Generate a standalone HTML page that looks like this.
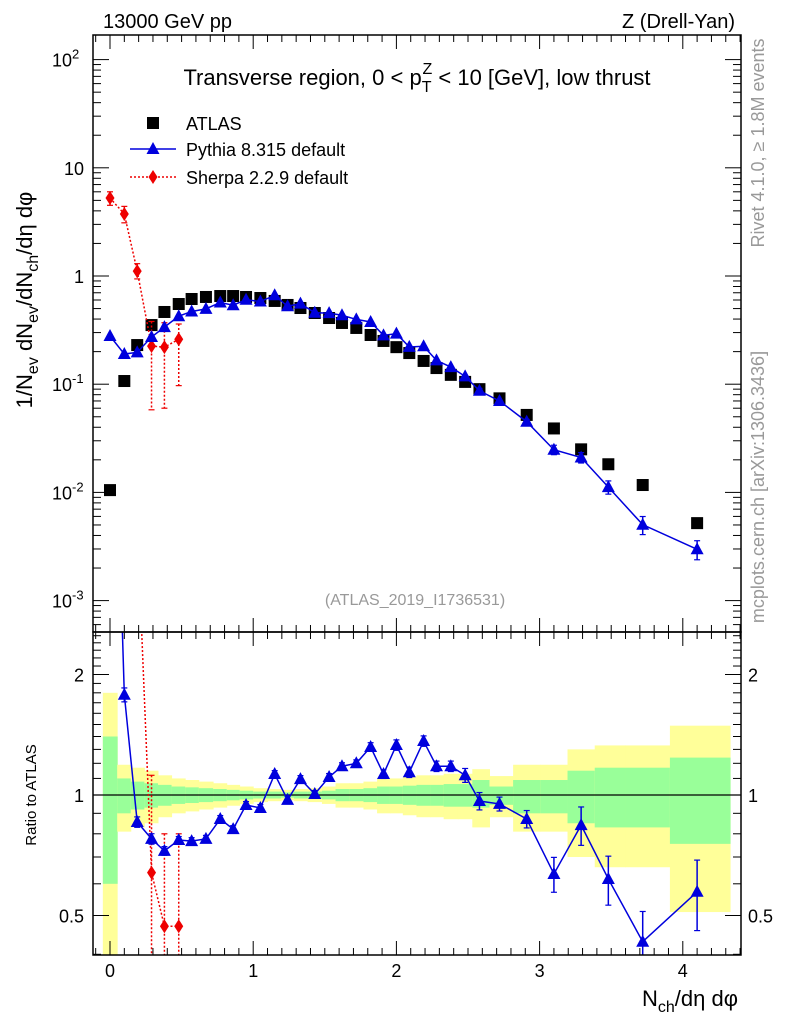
<!DOCTYPE html>
<html><head><meta charset="utf-8"><style>
body{margin:0;background:#fff;}
svg{display:block;font-family:"Liberation Sans",sans-serif;}
</style></head><body>
<svg id="c" width="786" height="1024" viewBox="0 0 786 1024">
<text x="103" y="28" font-size="20">13000 GeV pp</text>
<text x="735" y="28" font-size="20" text-anchor="end">Z (Drell-Yan)</text>
<text x="417" y="85" font-size="22" text-anchor="middle">Transverse region, 0 &lt; p<tspan font-size="16" dy="7">T</tspan><tspan font-size="16" dx="-9" dy="-18">Z</tspan><tspan dy="11"> &lt; 10 [GeV], low thrust</tspan></text>
<text x="415" y="605" font-size="16" fill="#999" text-anchor="middle">(ATLAS_2019_I1736531)</text>
<text transform="translate(764,143) rotate(-90)" font-size="18" fill="#999" text-anchor="middle">Rivet 4.1.0, ≥ 1.8M events</text>
<text transform="translate(764,487) rotate(-90)" font-size="18" fill="#999" text-anchor="middle">mcplots.cern.ch [arXiv:1306.3436]</text>
<text transform="translate(32,300) rotate(-90)" font-size="22" text-anchor="middle">1/N<tspan font-size="16" dy="6">ev</tspan><tspan dy="-6"> dN</tspan><tspan font-size="16" dy="6">ev</tspan><tspan dy="-6">/dN</tspan><tspan font-size="16" dy="6">ch</tspan><tspan dy="-6">/dη dφ</tspan></text>
<text transform="translate(36,795) rotate(-90)" font-size="15" text-anchor="middle">Ratio to ATLAS</text>
<text x="738" y="1006" font-size="22" text-anchor="end">N<tspan font-size="16" dy="6">ch</tspan><tspan dy="-6">/dη dφ</tspan></text>
<g id="g"></g>
</svg>
<script>
const xVals=[0,0.1,0.19,0.29,0.38,0.48,0.57,0.67,0.77,0.86,0.95,1.05,1.15,1.24,1.33,1.43,1.53,1.62,1.72,1.82,1.91,2.0,2.09,2.19,2.28,2.38,2.48,2.58,2.72,2.91,3.1,3.29,3.48,3.72,4.1];
const atlas=[0.0105,0.107,0.23,0.352,0.465,0.551,0.613,0.64,0.653,0.653,0.64,0.626,0.588,0.54,0.506,0.455,0.409,0.368,0.331,0.285,0.251,0.22,0.194,0.164,0.141,0.122,0.105,0.09,0.074,0.052,0.039,0.025,0.0182,0.0117,0.0052];
const pythia=[0.279,0.19,0.197,0.273,0.337,0.425,0.47,0.497,0.569,0.537,0.604,0.581,0.663,0.525,0.555,0.458,0.454,0.434,0.397,0.376,0.283,0.293,0.221,0.224,0.166,0.144,0.118,0.087,0.070,0.045,0.0248,0.021,0.0112,0.00503,0.00298];
const pythiaRatio=[26,1.78,0.856,0.777,0.725,0.772,0.767,0.777,0.871,0.822,0.944,0.928,1.128,0.972,1.096,1.006,1.109,1.18,1.2,1.318,1.128,1.333,1.14,1.364,1.18,1.18,1.12,0.966,0.95,0.871,0.635,0.841,0.617,0.43,0.573];
const pythiaErr=[0.03,0.04,0.03,0.03,0.025,0.02,0.02,0.02,0.02,0.02,0.02,0.02,0.02,0.02,0.02,0.02,0.02,0.02,0.02,0.025,0.025,0.03,0.03,0.03,0.03,0.03,0.04,0.05,0.04,0.05,0.1,0.11,0.14,0.19,0.2];
const sherpaX=[0,0.1,0.19,0.29,0.38,0.48];
const sherpa=[5.26,3.74,1.11,0.225,0.22,0.26];
const sherpaLo=[4.5,3.1,0.94,0.058,0.06,0.097];
const sherpaHi=[6.0,4.4,1.3,0.38,0.37,0.36];
const sherpaRatio=[500,35,4.8,0.64,0.47,0.47];
const sherpaRatioHi=[600,40,6,1.12,0.8,0.8];
const sherpaRatioLo=[400,30,4,0.2,0.2,0.2];
const bandYu=[1.8,1.19,1.17,1.15,1.12,1.10,1.09,1.08,1.07,1.06,1.05,1.04,1.035,1.03,1.035,1.04,1.05,1.07,1.07,1.08,1.10,1.10,1.11,1.12,1.12,1.13,1.13,1.16,1.115,1.19,1.19,1.30,1.33,1.33,1.49];
const bandYd=[0.35,0.81,0.83,0.85,0.88,0.90,0.91,0.92,0.93,0.94,0.95,0.96,0.965,0.97,0.965,0.96,0.95,0.93,0.93,0.92,0.90,0.90,0.89,0.88,0.88,0.87,0.87,0.83,0.88,0.81,0.81,0.70,0.66,0.66,0.51];
const bandGu=[1.40,1.10,1.08,1.07,1.06,1.05,1.045,1.04,1.035,1.03,1.025,1.02,1.02,1.015,1.02,1.02,1.025,1.035,1.035,1.04,1.05,1.05,1.055,1.06,1.06,1.065,1.065,1.09,1.05,1.09,1.09,1.15,1.17,1.17,1.24];
const bandGd=[0.60,0.90,0.92,0.93,0.94,0.95,0.955,0.96,0.965,0.97,0.975,0.98,0.98,0.985,0.98,0.98,0.975,0.965,0.965,0.96,0.95,0.95,0.945,0.94,0.94,0.935,0.935,0.93,0.945,0.90,0.90,0.85,0.83,0.83,0.755];
const mainTicks=["10^2","10","1","10^-1","10^-2","10^-3"];
const ratioTicks=[2,1,0.5];
const xTicks=[0,1,2,3,4];

const NS="http://www.w3.org/2000/svg";
const g=document.getElementById('g');
const L=93,R=741,MT=35,MB=632,RT=632,RB=955;
const X=v=>110+143.2*v;
const Y=v=>276-108.2*Math.log10(v);
const YR=v=>795-120.5*Math.log2(v);
function mk(t,a,p){const e=document.createElementNS(NS,t);for(const k in a)e.setAttribute(k,a[k]);(p||g).appendChild(e);return e;}
const defs=mk('defs',{});
const c1=mk('clipPath',{id:'cm'},defs);mk('rect',{x:L,y:MT,width:R-L,height:MB-MT},c1);
const c2=mk('clipPath',{id:'cr'},defs);mk('rect',{x:L,y:RT,width:R-L,height:RB-RT},c2);
const gm=mk('g',{'clip-path':'url(#cm)'});
const gr=mk('g',{'clip-path':'url(#cr)'});
function edges(i){const l=i==0?-0.05:(xVals[i-1]+xVals[i])/2;const r=i==xVals.length-1?4.33:(xVals[i]+xVals[i+1])/2;return [X(l),X(r)];}
xVals.forEach((x,i)=>{const [a,b]=edges(i);
 const y=mk('rect',{x:a,y:YR(bandYu[i]),width:b-a+0.5,height:YR(bandYd[i])-YR(bandYu[i]),fill:'#ffff99'},gr);
 
 
 const gg=mk('rect',{x:a,y:YR(bandGu[i]),width:b-a+0.5,height:YR(bandGd[i])-YR(bandGu[i]),fill:'#99ff99'},gr);
 
 
});
const one=mk('line',{x1:L,x2:R,y1:YR(1),y2:YR(1),stroke:'#000','stroke-width':1.3},gr);


function tri(p,x,y,name){const t=mk('polygon',{points:`${x},${y-7} ${x-6.5},${y+5} ${x+6.5},${y+5}`,fill:'#0000dd'},p);}
function dia(p,x,y,name){const t=mk('polygon',{points:`${x},${y-7} ${x-4.5},${y} ${x},${y+7} ${x+4.5},${y}`,fill:'#ee0000'},p);}
function err(p,x,y1,y2,col,dash){const e=mk('line',{x1:x,x2:x,y1:y1,y2:y2,stroke:col,'stroke-width':1.5},p);if(dash)e.setAttribute('stroke-dasharray','2,2');mk('line',{x1:x-3,x2:x+3,y1:y1,y2:y1,stroke:col,'stroke-width':1.2},p);mk('line',{x1:x-3,x2:x+3,y1:y2,y2:y2,stroke:col,'stroke-width':1.2},p);}
atlas.forEach((v,i)=>{const s=mk('rect',{x:X(xVals[i])-6,y:Y(v)-6,width:12,height:12,fill:'#000'},gm);});
const sp=mk('polyline',{points:sherpaX.map((x,i)=>X(x)+','+Y(sherpa[i])).join(' '),fill:'none',stroke:'#ee0000','stroke-width':1.5,'stroke-dasharray':'2,2'},gm);


sherpaX.forEach((x,i)=>{err(gm,X(x),Y(sherpaHi[i]),Y(sherpaLo[i]),'#ee0000',true);dia(gm,X(x),Y(sherpa[i]),'sherpa-point');});
const pl=mk('polyline',{points:xVals.map((x,i)=>X(x)+','+Y(pythia[i])).join(' '),fill:'none',stroke:'#0000dd','stroke-width':1.5},gm);


xVals.forEach((x,i)=>{const v=pythia[i],e=pythiaErr[i];if(e>0.04)err(gm,X(x),Y(v*(1+e)),Y(v*(1-e)),'#0000dd');tri(gm,X(x),Y(v),'pythia-point');});
const sr=mk('polyline',{points:sherpaX.map((x,i)=>X(x)+','+YR(sherpaRatio[i])).join(' '),fill:'none',stroke:'#ee0000','stroke-width':1.5,'stroke-dasharray':'2,2'},gr);


sherpaX.forEach((x,i)=>{err(gr,X(x),YR(sherpaRatioHi[i]),YR(sherpaRatioLo[i]),'#ee0000',true);dia(gr,X(x),YR(sherpaRatio[i]),'sherpa-ratio-point');});
const pr=mk('polyline',{points:xVals.map((x,i)=>X(x)+','+YR(pythiaRatio[i])).join(' '),fill:'none',stroke:'#0000dd','stroke-width':1.5},gr);


xVals.forEach((x,i)=>{const v=pythiaRatio[i],e=pythiaErr[i];err(gr,X(x),YR(v*(1+e)),YR(v*(1-e)),'#0000dd');tri(gr,X(x),YR(v),'pythia-ratio-point');});
[[MT,MB,'main-frame'],[RT,RB,'ratio-frame']].forEach(([t,b,n])=>{const f=mk('rect',{x:L,y:t,width:R-L,height:b-t,fill:'none',stroke:'#000','stroke-width':1.5});});
for(let k=-1;k<=44;k++){const v=k/10,x=X(v);if(x<L||x>R)continue;const big=k%10==0;const len=big?14:7;
 [MT,RT].forEach(t=>mk('line',{x1:x,x2:x,y1:t,y2:t+len,stroke:'#000','stroke-width':1}));
 [MB,RB].forEach(b=>mk('line',{x1:x,x2:x,y1:b,y2:b-len,stroke:'#000','stroke-width':1}));}
xTicks.forEach(v=>{const t=mk('text',{x:X(v),y:977,'font-size':18,'text-anchor':'middle'});t.textContent=v;});
for(let d=-4;d<=2;d++)for(let m=1;m<10;m++){const v=m*Math.pow(10,d),y=Y(v);if(y<MT||y>MB)continue;const len=m==1?16:8;
 mk('line',{x1:L,x2:L+len,y1:y,y2:y,stroke:'#000','stroke-width':1});mk('line',{x1:R,x2:R-len,y1:y,y2:y,stroke:'#000','stroke-width':1});}
mainTicks.forEach((s,i)=>{const y=Y(Math.pow(10,2-i));const p=s.split('^');const t=mk('text',{x:84,y:y+7,'font-size':18,'text-anchor':p.length>1?'start':'end'});
 if(p.length>1){t.innerHTML=`${p[0]}<tspan font-size="13" dy="-8">${p[1]}</tspan>`;t.setAttribute('x',52);}else t.textContent=s;
 });
[0.4,0.5,0.6,0.7,0.8,0.9,1,1.1,1.2,1.3,1.4,1.5,1.6,1.7,1.8,1.9,2,2.1,2.2,2.3,2.4,2.5].forEach(v=>{const y=YR(v);if(y<RT||y>RB)return;const len=(v==0.5||v==1||v==2)?16:8;
 mk('line',{x1:L,x2:L+len,y1:y,y2:y,stroke:'#000','stroke-width':1});mk('line',{x1:R,x2:R-len,y1:y,y2:y,stroke:'#000','stroke-width':1});});
ratioTicks.forEach(v=>{const y=YR(v)+7;
 const a=mk('text',{x:84,y:y,'font-size':18,'text-anchor':'end'});a.textContent=v;
 const b=mk('text',{x:748,y:y,'font-size':18});b.textContent=v;});
const lg=mk('g',{});
mk('rect',{x:147,y:117,width:12,height:12,fill:'#000'},lg);
mk('line',{x1:130,x2:176,y1:149,y2:149,stroke:'#0000dd','stroke-width':1.5},lg);tri(lg,153,149,'legend-pythia-marker');
mk('line',{x1:130,x2:176,y1:177,y2:177,stroke:'#ee0000','stroke-width':1.5,'stroke-dasharray':'2,2'},lg);dia(lg,153,177,'legend-sherpa-marker');
[['ATLAS',130,'legend-atlas'],['Pythia 8.315 default',156,'legend-pythia'],['Sherpa 2.2.9 default',184,'legend-sherpa']].forEach(([s,y,n])=>{const t=mk('text',{x:186,y:y,'font-size':18},lg);t.textContent=s;});
</script>
</body></html>
